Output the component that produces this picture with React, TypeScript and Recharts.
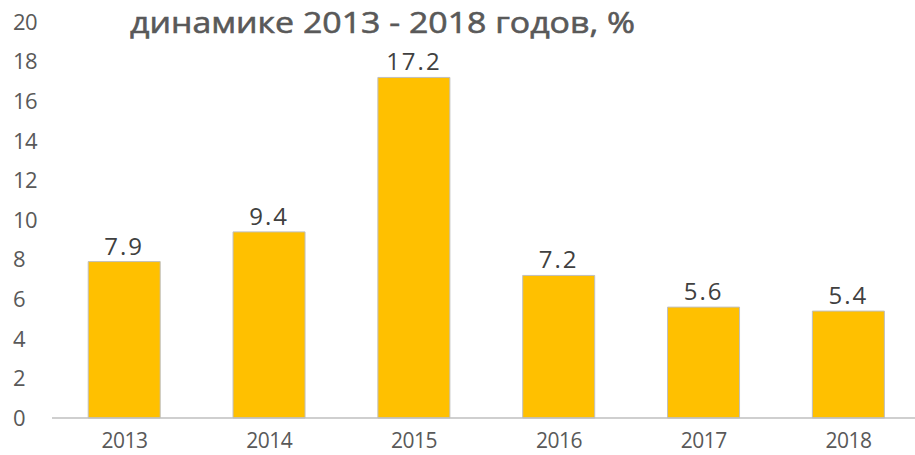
import React from 'react';
import { BarChart, Bar, XAxis, YAxis, LabelList } from 'recharts';

const years = ['2013', '2014', '2015', '2016', '2017', '2018'];
const values = [7.9, 9.4, 17.2, 7.2, 5.6, 5.4];
const yTicks = [0, 2, 4, 6, 8, 10, 12, 14, 16, 18, 20];
const titleText = 'динамике 2013 - 2018 годов, %';

const data = years.map((y, i) => ({ year: y, value: values[i] }));

const FONT = '"Open Sans", "DejaVu Sans", sans-serif';

const YTick = (props: any) => {
  const { y, payload } = props;
  return (
    <text x={13} y={y} dy="0.355em" textAnchor="start" fill="#595959" fontSize={22} fontFamily={FONT} letterSpacing={-0.5}>
      {payload.value}
    </text>
  );
};

export default function App() {
  return (
    <div style={{ position: 'absolute', left: 0, top: 0, width: 915, height: 455, overflow: 'hidden', background: '#fff' }}>
      <svg width={915} height={42} style={{ position: 'absolute', left: 0, top: 0 }}>
        <text x={130} y={33} fontSize={30} fontFamily={FONT} fill="#595959" stroke="#595959" strokeWidth={0.6} textLength={505} lengthAdjust="spacingAndGlyphs">
          {titleText}
        </text>
      </svg>
      <BarChart
        width={930}
        height={455}
        data={data}
        margin={{ top: 22, right: 9, bottom: 0, left: 0 }}
        barCategoryGap="25%"
      >
        <XAxis
          dataKey="year"
          height={37}
          tickSize={0}
          tickMargin={15}
          tickLine={false}
          axisLine={{ stroke: '#BFBFBF', strokeWidth: 1.5 }}
          tick={{ fill: '#595959', fontSize: 21, fontFamily: FONT, letterSpacing: -0.5 }}
        />
        <YAxis
          width={52}
          domain={[0, 20]}
          ticks={yTicks}
          interval={0}
          axisLine={false}
          tickLine={false}
          tick={<YTick />}
        />
        <Bar dataKey="value" fill="#FFC000" stroke="#BFBFBF" strokeWidth={1} isAnimationActive={false}>
          <LabelList
            dataKey="value"
            position="top"
            offset={7}
            fill="#404040"
            fontSize={24}
            fontFamily={FONT}
            letterSpacing={2}
          />
        </Bar>
      </BarChart>
    </div>
  );
}
